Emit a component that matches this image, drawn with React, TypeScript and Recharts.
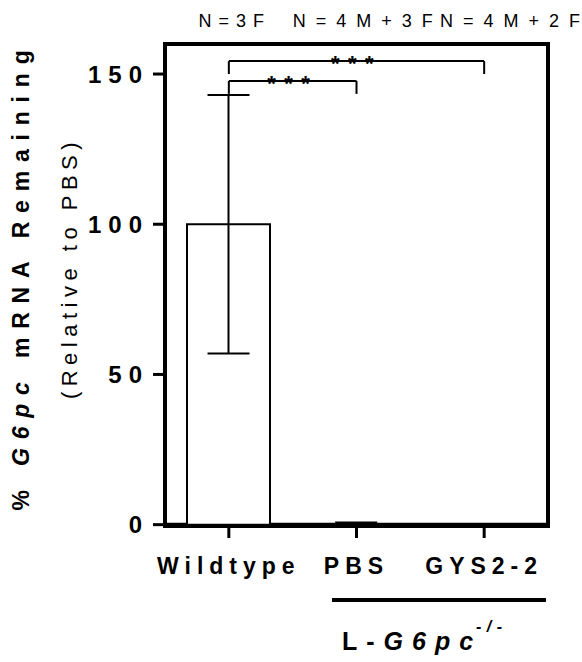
import { BarChart, Bar, XAxis, YAxis, ErrorBar, ReferenceLine, ReferenceArea, ReferenceDot, Customized } from "recharts"

const categories = ["Wildtype", "PBS", "GYS2-2"]
const meanValues = [100, 0.15, 0.1]
const errValues = [43, 0.6, 0.05]
const nLabels = ["N = 3 F", "N = 4 M + 3 F", "N = 4 M + 2 F"]
const yTicks = [0, 50, 100, 150]

// significance brackets
const bracketFrom = ["Wildtype", "Wildtype"]
const bracketTo = ["PBS", "GYS2-2"]
const bracketTop = [147.7, 154.3]
const bracketFoot = [143.4, 150]
const bracketStars = ["***", "***"]

const data = categories.map((name, i) => ({ name, value: meanValues[i], err: errValues[i] }))

const font = "'Liberation Sans', Arial, sans-serif"
const nShift = [3, 7.5, 27]
const nSpacing = [1, 2.5, 2.5]
const axisLineStyle = { stroke: "#000", strokeWidth: 4, strokeLinecap: "square" as const }

function Annotations() {
  return (
    <g fontFamily={font} fill="#000">
      <text transform="translate(29,276) rotate(-90)" textAnchor="middle" fontSize={23} fontWeight="bold" letterSpacing={8.8}>
        % <tspan fontStyle="italic">G6pc</tspan> mRNA Remaining
      </text>
      <text transform="translate(77,268) rotate(-90)" textAnchor="middle" fontSize={22} letterSpacing={5.5}>
        (Relative to PBS)
      </text>
      <rect x={332} y={598} width={214} height={4} fill="#000" />
      <text x={342} y={650} fontSize={25} fontWeight="bold" letterSpacing={9}>
        L-<tspan fontStyle="italic">G6pc</tspan>
      </text>
      <text x={476} y={632} fontSize={16} fontWeight="bold" fontStyle="italic" letterSpacing={5.5}>
        -/-
      </text>
    </g>
  )
}

const starsLabel = (text: string) => (p: any) => {
  const vb = p.viewBox
  return (
    <text x={vb.x + vb.width / 2} y={vb.y + 9.7} textAnchor="middle" fontSize={22} fontWeight="bold" letterSpacing={8.4} fontFamily={font} fill="#000">
      {text}
    </text>
  )
}

const nLabel = (i: number) => (p: any) => {
  const vb = p.viewBox
  return (
    <text x={vb.x + vb.width / 2 + nShift[i]} y={vb.y + vb.height / 2 - 17.3} textAnchor="middle" fontSize={18} letterSpacing={nSpacing[i]} fontFamily={font} fill="#000">
      {nLabels[i]}
    </text>
  )
}

export default function App() {
  return (
    <div style={{ position: "absolute", left: 0, top: 0, background: "#fff" }}>
      <BarChart width={582} height={662} data={data} margin={{ top: 44, right: 34, left: 85, bottom: 76 }}>
        <Bar dataKey="value" fill="#fff" stroke="#000" strokeWidth={2} barSize={83} isAnimationActive={false}>
          <ErrorBar dataKey="err" width={21} stroke="#000" strokeWidth={2} isAnimationActive={false} />
        </Bar>
        {bracketTop.map((top, i) => (
          <ReferenceLine
            key={"h" + i}
            segment={[{ x: bracketFrom[i], y: top }, { x: bracketTo[i], y: top }]}
            stroke="#000"
            strokeWidth={2}
            label={starsLabel(bracketStars[i])}
          />
        ))}
        {bracketTop.map((top, i) => (
          <ReferenceLine key={"l" + i} segment={[{ x: bracketFrom[i], y: bracketFoot[i] }, { x: bracketFrom[i], y: top }]} stroke="#000" strokeWidth={2} />
        ))}
        {bracketTop.map((top, i) => (
          <ReferenceLine key={"r" + i} segment={[{ x: bracketTo[i], y: bracketFoot[i] }, { x: bracketTo[i], y: top }]} stroke="#000" strokeWidth={2} />
        ))}
        {categories.map((c, i) => (
          <ReferenceDot key={"n" + i} x={c} y={160} r={1} fill="none" stroke="none" ifOverflow="visible" label={nLabel(i)} />
        ))}
        <ReferenceArea y1={0} y2={160} fill="none" stroke="#000" strokeWidth={4} ifOverflow="visible" />
        <XAxis
          dataKey="name"
          height={60}
          tickSize={12}
          tickMargin={20}
          interval={0}
          axisLine={axisLineStyle}
          tickLine={{ stroke: "#000", strokeWidth: 3 }}
          tick={{ fontSize: 23, fontWeight: "bold", fill: "#000", fontFamily: font, letterSpacing: 6 }}
        />
        <YAxis
          width={80}
          domain={[0, 160]}
          ticks={yTicks}
          tickSize={12}
          tickMargin={4}
          axisLine={axisLineStyle}
          tickLine={{ stroke: "#000", strokeWidth: 3 }}
          tick={{ fontSize: 24, fontWeight: "bold", fill: "#000", fontFamily: font, letterSpacing: 7 }}
        />
        <Customized component={Annotations} />
      </BarChart>
    </div>
  )
}
